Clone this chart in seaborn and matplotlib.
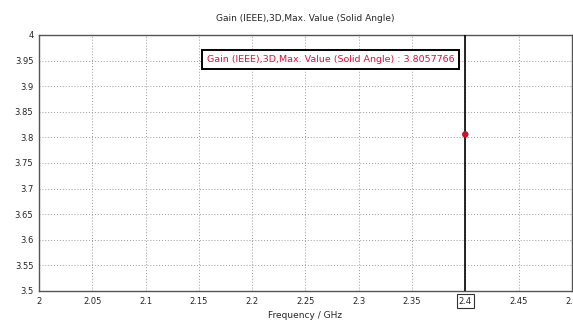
import matplotlib
matplotlib.use("Agg")
import matplotlib.pyplot as plt
import seaborn as sns
import pandas as pd

# Data
frequency = [2.4]
gain = [3.8057766]
marker_label = "Gain (IEEE),3D,Max. Value (Solid Angle) : 3.8057766"
x_ticks = [2, 2.05, 2.1, 2.15, 2.2, 2.25, 2.3, 2.35, 2.4, 2.45, 2.5]
x_labels = ["2", "2.05", "2.1", "2.15", "2.2", "2.25", "2.3", "2.35", "2.4", "2.45", "2.5"]
y_ticks = [3.5, 3.55, 3.6, 3.65, 3.7, 3.75, 3.8, 3.85, 3.9, 3.95, 4]
y_labels = ["3.5", "3.55", "3.6", "3.65", "3.7", "3.75", "3.8", "3.85", "3.9", "3.95", "4"]

sns.set_style("white")
plt.rcParams["font.family"] = ["DejaVu Sans"]

df = pd.DataFrame({"freq": frequency, "gain": gain})

fig = plt.figure(figsize=(5.73, 3.36), dpi=100)
ax = fig.add_axes([0.068, 0.134, 0.93, 0.762])

sns.scatterplot(data=df, x="freq", y="gain", ax=ax, color="#d0102a",
                s=22, edgecolor="none", zorder=5)

# marker line at 2.4
ax.axvline(frequency[0], color="black", lw=1.2, zorder=4)

ax.set_xlim(2, 2.5)
ax.set_ylim(3.5, 4)
ax.set_xticks(x_ticks)
ax.set_xticklabels(x_labels)
ax.set_yticks(y_ticks)
ax.set_yticklabels(y_labels)
ax.tick_params(labelsize=6, length=3, color="#555555", direction="in", pad=4)
ax.grid(True, linestyle=(0, (1, 2)), color="#999999", lw=0.7)
for s in ax.spines.values():
    s.set_color("#555555")
    s.set_linewidth(1.0)

# boxed tick label at the marker frequency
for lbl in ax.get_xticklabels():
    if lbl.get_text() == "2.4":
        lbl.set_bbox(dict(facecolor="white", edgecolor="#333333", lw=0.8, pad=1.5))

ax.set_xlabel("Frequency / GHz", fontsize=6.5, labelpad=4)
ax.set_ylabel("")
ax.set_title("Gain (IEEE),3D,Max. Value (Solid Angle)", fontsize=6.5, pad=10)

ax.text(2.2735, 3.952, marker_label, color="#e0103a", fontsize=6.8, ha="center", va="center",
        bbox=dict(facecolor="white", edgecolor="black", lw=1.4, pad=3.5), zorder=6)

fig.savefig("out.png", dpi=100)
